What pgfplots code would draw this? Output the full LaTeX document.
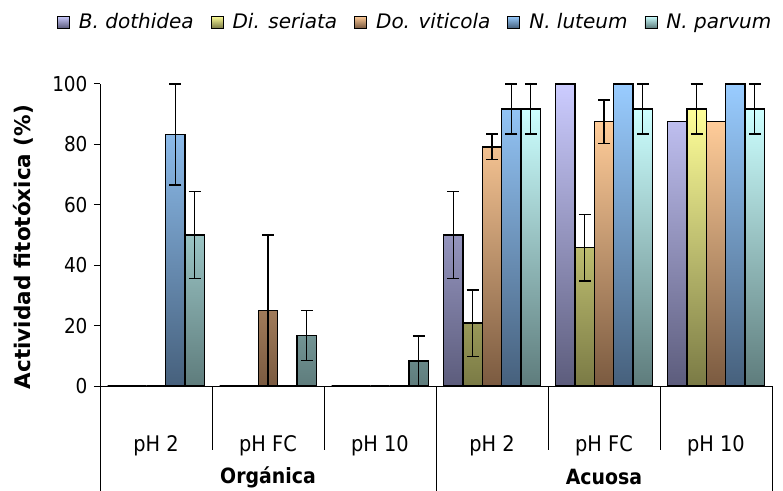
\documentclass[border=0pt]{standalone}
\usepackage{pgfplots}
\usepackage{pgfplotstable}
\pgfplotsset{compat=1.18}
\usepackage{fontspec}
\setmainfont{DejaVu Sans Condensed}
\newfontfamily\widefont{DejaVu Sans}

\definecolor{Btop}{HTML}{CCCCFF}\definecolor{Bbot}{HTML}{5C5C7C}
\definecolor{Dtop}{HTML}{FFFF99}\definecolor{Dbot}{HTML}{7A7A45}
\definecolor{Otop}{HTML}{FFCC99}\definecolor{Obot}{HTML}{7A5A40}
\definecolor{Ltop}{HTML}{99CCFF}\definecolor{Lbot}{HTML}{46607C}
\definecolor{Ptop}{HTML}{CCFFFF}\definecolor{Pbot}{HTML}{5E7C7C}

\pgfplotstableread{
x B Be Di Die Do Doe Nl Nle Np Npe
0 0 0 0 0 0 0 83.3 16.7 50 14.3
1 0 0 0 0 25 25 0 0 16.7 8.3
2 0 0 0 0 0 0 0 0 8.3 8.3
3 50 14.3 20.8 11 79.2 4.2 91.7 8.3 91.7 8.3
4 100 0 45.8 11 87.5 7.2 100 0 91.7 8.3
5 87.5 0 91.7 8.3 87.5 0 100 0 91.7 8.3
}\data

\pgfplotsset{
  mybar/.style 2 args={draw=black, line width=1.4pt, top color=#1, bottom color=#2,
    error bars/.cd, y dir=both, y explicit,
    error bar style={line width=1.3pt, black, solid},
    error mark options={line width=1.3pt, mark size=6pt, rotate=90, black}},
}

\begin{document}
\begin{tikzpicture}
\useasboundingbox (0,0) rectangle (783pt,490pt);
\begin{axis}[
  at={(100pt,104pt)}, anchor=south west,
  scale only axis, width=672pt, height=302pt,
  xmin=-0.5, xmax=5.5, ymin=0, ymax=100,
  ybar=0pt, bar width=19.4pt,
  axis lines*=left, axis line style={line width=1pt, black},
  xtick={0,...,5}, xticklabels={pH 2,pH FC,pH 10,pH 2,pH FC,pH 10},
  x tick style={draw=none},
  xticklabel style={anchor=center, yshift=-54pt, font=\fontsize{21.5}{25}\selectfont},
  ytick={0,20,...,100}, tick align=outside, y tick style={line width=1pt, black},
  major tick length=6pt,
  yticklabel style={font=\fontsize{20.5}{24}\selectfont, xshift=-3pt},
  /pgf/number format/assume math mode=true,
  ylabel={Actividad fitotóxica (\%)},
  ylabel style={at={(ticklabel cs:0.46)}, font=\widefont\bfseries\fontsize{21.5}{24}\selectfont, yshift=12pt},
  clip=false,
  legend columns=5,
  legend style={at={(0.469,1.205)}, anchor=center, draw=none,
    font=\widefont\itshape\fontsize{20}{24}\selectfont,
    /tikz/every odd column/.append style={column sep=7pt},
    /tikz/every even column/.append style={column sep=15pt}},
  legend image code/.code={\draw[#1, line width=0.9pt] (0pt,-6pt) rectangle (12pt,6pt);},
]
\addplot[mybar={Btop}{Bbot}] table[x=x, y=B, y error=Be]{\data};
\addplot[mybar={Dtop}{Dbot}] table[x=x, y=Di, y error=Die]{\data};
\addplot[mybar={Otop}{Obot}] table[x=x, y=Do, y error=Doe]{\data};
\addplot[mybar={Ltop}{Lbot}] table[x=x, y=Nl, y error=Nle]{\data};
\addplot[mybar={Ptop}{Pbot}] table[x=x, y=Np, y error=Npe]{\data};
\legend{B. dothidea, Di. seriata, Do. viticola, N. luteum, N. parvum}

\draw[line width=1pt] (axis cs:0.5,0) -- ([yshift=-64pt]axis cs:0.5,0);
\draw[line width=1pt] (axis cs:1.5,0) -- ([yshift=-64pt]axis cs:1.5,0);
\draw[line width=1pt] (axis cs:3.5,0) -- ([yshift=-64pt]axis cs:3.5,0);
\draw[line width=1pt] (axis cs:4.5,0) -- ([yshift=-64pt]axis cs:4.5,0);
\draw[line width=1pt] (axis cs:-0.5,0) -- ([yshift=-110pt]axis cs:-0.5,0);
\draw[line width=1pt] (axis cs:2.5,0) -- ([yshift=-110pt]axis cs:2.5,0);
\draw[line width=1pt] (axis cs:5.5,0) -- ([yshift=-110pt]axis cs:5.5,0);
\node[font=\bfseries\fontsize{21}{24}\selectfont, yshift=-91pt] at (axis cs:1,0) {Orgánica};
\node[font=\bfseries\fontsize{21}{24}\selectfont, yshift=-91pt] at (axis cs:4,0) {Acuosa};
\end{axis}
\end{tikzpicture}
\end{document}
